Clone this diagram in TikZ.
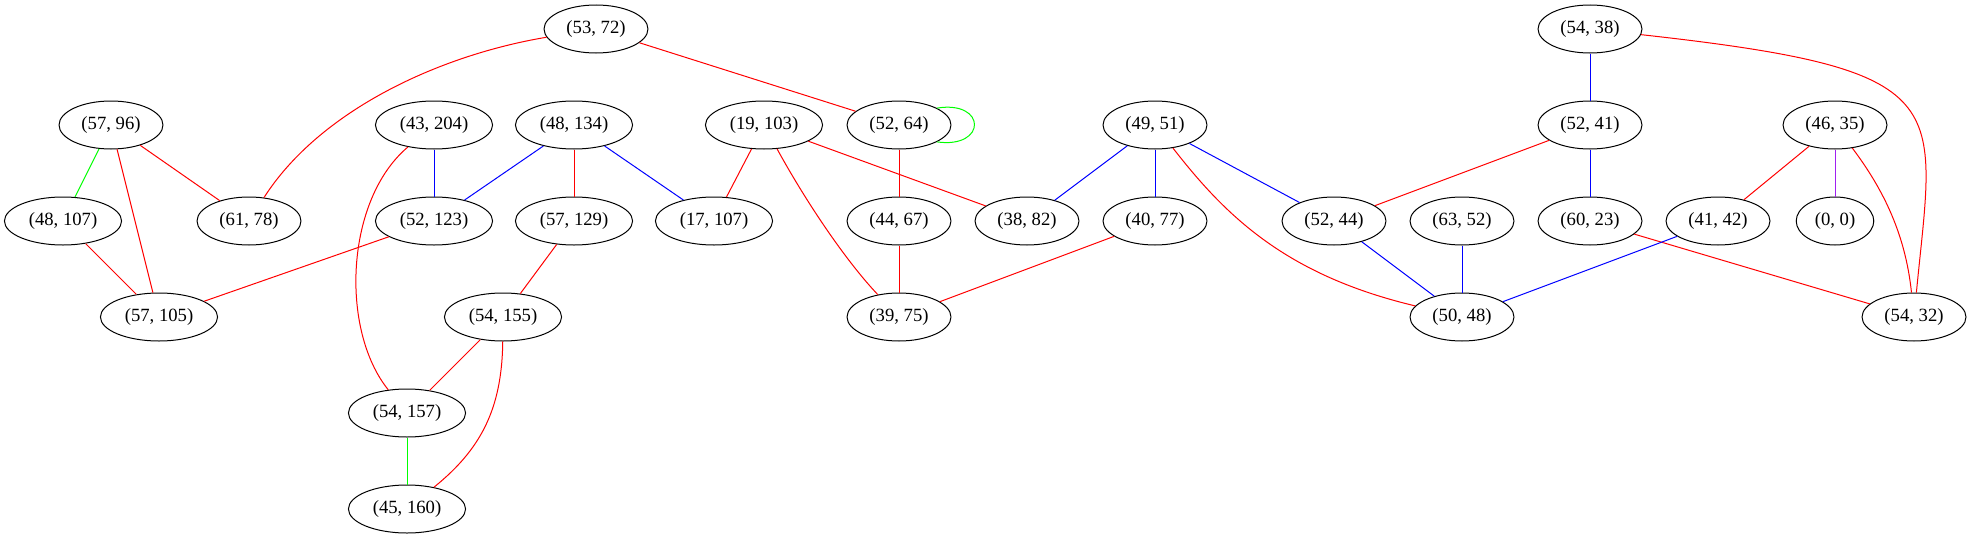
\documentclass[tikz,border=0pt]{standalone}
\usepackage{fontspec}
\setmainfont{Liberation Serif}
\usetikzlibrary{shapes.geometric}
\definecolor{gvpurple}{HTML}{A020F0}

\begin{document}
\begin{tikzpicture}[x=0.75pt, y=-0.75pt, line width=0.75pt, every node/.style={draw, ellipse, inner xsep=5.4pt, inner ysep=2pt, minimum height=36pt, font=\fontsize{14pt}{16pt}\selectfont}]
  \useasboundingbox (0,0) rectangle (1971,539);
  \node (n53-72) at (596,29) {(53, 72)};
  \node (n54-38) at (1590,29) {(54, 38)};
  \node (n57-96) at (111,125) {(57, 96)};
  \node (n43-204) at (434,125) {(43, 204)};
  \node (n48-134) at (574,125) {(48, 134)};
  \node (n19-103) at (764,125) {(19, 103)};
  \node (n52-64) at (899,125) {(52, 64)};
  \node (n49-51) at (1155,125) {(49, 51)};
  \node (n52-41) at (1590,125) {(52, 41)};
  \node (n46-35) at (1835,125) {(46, 35)};
  \node (n48-107) at (63,221) {(48, 107)};
  \node (n61-78) at (249,221) {(61, 78)};
  \node (n52-123) at (434,221) {(52, 123)};
  \node (n57-129) at (574,221) {(57, 129)};
  \node (n17-107) at (714,221) {(17, 107)};
  \node (n44-67) at (899,221) {(44, 67)};
  \node (n38-82) at (1027,221) {(38, 82)};
  \node (n40-77) at (1155,221) {(40, 77)};
  \node (n52-44) at (1334,221) {(52, 44)};
  \node (n63-52) at (1462,221) {(63, 52)};
  \node (n60-23) at (1590,221) {(60, 23)};
  \node (n41-42) at (1718,221) {(41, 42)};
  \node (n0-0) at (1835,221) {(0, 0)};
  \node (n57-105) at (159,317) {(57, 105)};
  \node (n54-155) at (503,317) {(54, 155)};
  \node (n39-75) at (899,317) {(39, 75)};
  \node (n50-48) at (1462,317) {(50, 48)};
  \node (n54-32) at (1914,317) {(54, 32)};
  \node (n54-157) at (407,413) {(54, 157)};
  \node (n45-160) at (407,509) {(45, 160)};
  \draw[red] (n53-72) .. controls +(-156,26) and +(71,-111) .. (n61-78);
  \draw[red] (n53-72) -- (n52-64);
  \draw[red] (n54-38) .. controls +(370,41) and +(21,-217) .. (n54-32);
  \draw[blue] (n54-38) -- (n52-41);
  \draw[green] (n57-96) -- (n48-107);
  \draw[red] (n57-96) -- (n61-78);
  \draw[red] (n57-96) -- (n57-105);
  \draw[red] (n43-204) .. controls +(-89,75) and +(-67,-83) .. (n54-157);
  \draw[blue] (n43-204) -- (n52-123);
  \draw[blue] (n48-134) -- (n52-123);
  \draw[red] (n48-134) -- (n57-129);
  \draw[blue] (n48-134) -- (n17-107);
  \draw[red] (n19-103) -- (n17-107);
  \draw[red] (n19-103) -- (n38-82);
  \draw[red] (n19-103) .. controls +(41,75) and +(-54,-57) .. (n39-75);
  \draw[green] (n52-64.24) .. controls +(50,-8) and +(50,7) .. (n52-64.336);
  \draw[red] (n52-64) -- (n44-67);
  \draw[blue] (n49-51) -- (n38-82);
  \draw[blue] (n49-51) -- (n40-77);
  \draw[blue] (n49-51) -- (n52-44);
  \draw[red] (n49-51) .. controls +(70,90) and +(-177,-42) .. (n50-48);
  \draw[red] (n52-41) -- (n52-44);
  \draw[blue] (n52-41) -- (n60-23);
  \draw[red] (n46-35) -- (n41-42);
  \draw[gvpurple] (n46-35) -- (n0-0);
  \draw[red] (n46-35) .. controls +(45,60) and +(-9,-87) .. (n54-32);
  \draw[red] (n48-107) -- (n57-105);
  \draw[red] (n52-123) -- (n57-105);
  \draw[red] (n57-129) -- (n54-155);
  \draw[red] (n44-67) -- (n39-75);
  \draw[red] (n40-77) -- (n39-75);
  \draw[blue] (n52-44) -- (n50-48);
  \draw[blue] (n63-52) -- (n50-48);
  \draw[red] (n60-23) -- (n54-32);
  \draw[blue] (n41-42) -- (n50-48);
  \draw[red] (n54-155) -- (n54-157);
  \draw[red] (n54-155) .. controls +(-1,93) and +(73,-59) .. (n45-160);
  \draw[green] (n54-157) -- (n45-160);
\end{tikzpicture}
\end{document}
